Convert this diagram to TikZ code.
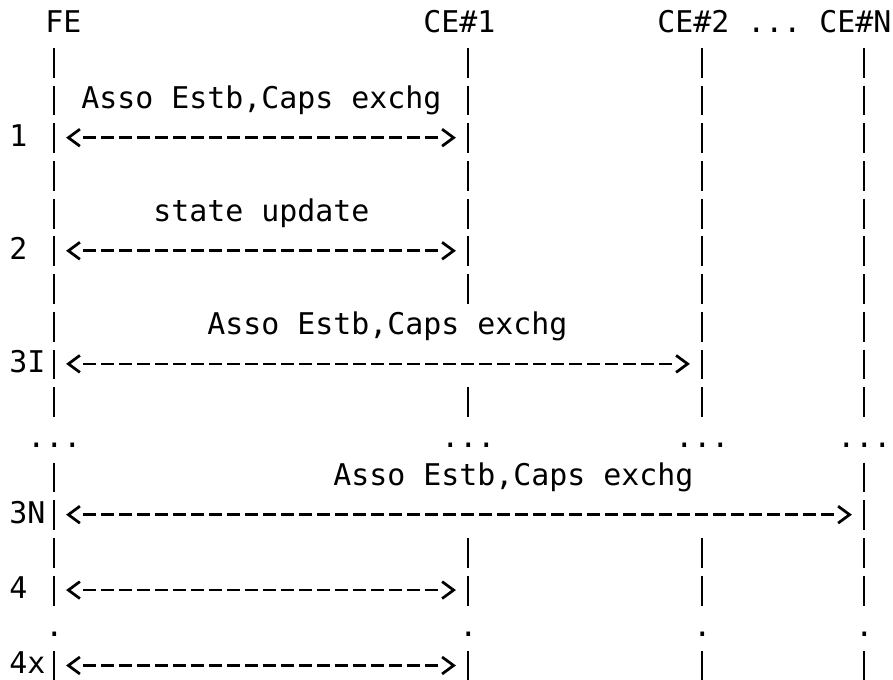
\documentclass[tikz,border=0pt]{standalone}
\usepackage{fontspec}
\setmonofont{DejaVu Sans Mono}
\begin{document}
\begin{tikzpicture}[x=13.5pt, y=-28.275pt,
    every node/.style={font=\ttfamily\fontsize{22.43pt}{27pt}\selectfont, anchor=base west, inner sep=0pt},
    bar/.style={line width=2.2pt},
    msg/.style={line width=2.05pt, dash pattern=on 9.75pt off 3.75pt},
    chev/.style={line width=2.05pt, line join=miter}]
    \useasboundingbox (0,0) rectangle (49.611,18.037);

    % headers
    \node (fe)   at (2.5,0.875)  {FE};
    \node (ce1)  at (23.5,0.875) {CE\#1};
    \node (ce2)  at (36.5,0.875) {CE\#2};
    \node (more) at (41.5,0.875) {...};
    \node (cen)  at (45.5,0.875) {CE\#N};

    % step numbers
    \node (s1)  at (0.5,3.875)  {1};
    \node (s2)  at (0.5,6.875)  {2};
    \node (s3i) at (0.5,9.875)  {3I};
    \node (s3n) at (0.5,13.875) {3N};
    \node (s4)  at (0.5,15.875) {4};
    \node (s4x) at (0.5,17.875) {4x};

    % message texts
    \node (t1) at (4.5,2.875)   {Asso Estb,Caps exchg};
    \node (t2) at (8.5,5.875)   {state update};
    \node (t3) at (11.5,8.875)  {Asso Estb,Caps exchg};
    \node (t4) at (18.5,12.875) {Asso Estb,Caps exchg};

    % elided rows
    \foreach \c [count=\i] in {1,24,37,46}
        \node (gap\i) at (\c+0.5,11.875) {...};
    \foreach \c [count=\i] in {2,25,38,47}
        \node (dot\i) at (\c+0.5,16.875) {.};

    % lifelines
    \foreach \c/\rows in {2/{1,...,10,12,13,14,15,17},
                          25/{1,...,7,10,14,15,17},
                          38/{1,...,10,14,15,17},
                          47/{1,...,10,12,13,14,15,17}}
        \foreach \r in \rows
            \draw[bar] (\c+1,\r+0.273) -- (\c+1,\r+1.061);

    % messages
    \foreach \n/\r/\c in {1/3/24, 2/6/24, 3/9/37, 4/13/46, 5/15/24, 6/17/24} {
        \coordinate (m\n l) at (3.8,\r+0.652);
        \coordinate (m\n s) at (4.633,\r+0.652);
        \coordinate (m\n e) at (\c+0.356,\r+0.652);
        \coordinate (m\n r) at (\c+1.2,\r+0.652);
        \draw[msg] (m\n s) -- (m\n e);
        \draw[chev] ([shift={(0.64,-0.225)}]m\n l) -- (m\n l) -- ([shift={(0.64,0.225)}]m\n l);
        \draw[chev] ([shift={(-0.64,-0.225)}]m\n r) -- (m\n r) -- ([shift={(-0.64,0.225)}]m\n r);
    }
\end{tikzpicture}
\end{document}
